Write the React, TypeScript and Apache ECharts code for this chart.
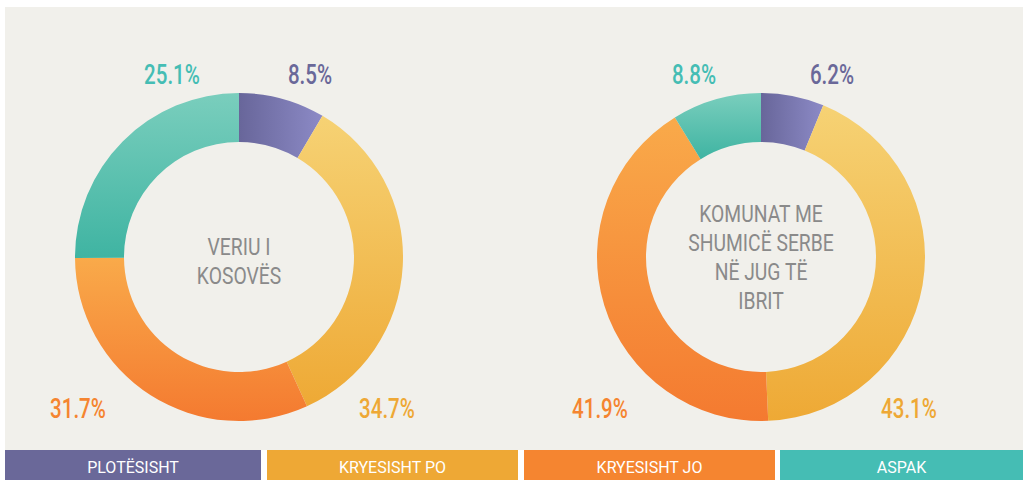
import React, { useEffect, useRef } from "react";
import * as echarts from "echarts";

const categories = ["PLOTËSISHT", "KRYESISHT PO", "KRYESISHT JO", "ASPAK"];
const northValues = [8.5, 34.7, 31.7, 25.1];
const southValues = [6.2, 43.1, 41.9, 8.8];
const northTitle = "VERIU I\nKOSOVËS";
const southTitle = "KOMUNAT ME\nSHUMICË SERBE\nNË JUG TË\nIBRIT";

const solidColors = ["#6a6899", "#eea835", "#f58530", "#45bdb4"];
const gradStops: [string, string, boolean][] = [
  ["#68669a", "#8c8ac6", true],
  ["#f6d274", "#eea935", false],
  ["#f9aa4a", "#f47a30", false],
  ["#7acebd", "#3fb4a2", false],
];

const FONT = "Roboto, 'DejaVu Sans', sans-serif";

const labelOffX = [71, 148, -161, -67];
const labelY = [75, 409, 409, 75];
const legendX = [5, 267, 524, 780];
const legendW = [256, 251, 251, 250];

function makeSeries(values: number[], cx: number) {
  return {
    type: "pie",
    center: [cx, 257],
    radius: [115, 164],
    startAngle: 90,
    clockwise: true,
    silent: true,
    label: { show: false },
    labelLine: { show: false },
    data: values.map((v, i) => ({
      value: v,
      name: categories[i],
      itemStyle: {
        color: new echarts.graphic.LinearGradient(
          0,
          0,
          gradStops[i][2] ? 1 : 0,
          gradStops[i][2] ? 0 : 1,
          [
            { offset: 0, color: gradStops[i][0] },
            { offset: 1, color: gradStops[i][1] },
          ]
        ),
      },
    })),
  };
}

function valueLabels(values: number[], cx: number) {
  return values.map((v, i) => ({
    type: "text",
    x: cx + labelOffX[i],
    y: labelY[i],
    scaleX: 0.76,
    style: {
      text: `${v}%`,
      fontFamily: FONT,
      fontSize: 27,
      fontWeight: 500,
      fill: solidColors[i],
      align: "center",
      verticalAlign: "middle",
    },
  }));
}

function centerText(text: string, cx: number, cy: number) {
  return {
    type: "text",
    x: cx,
    y: cy,
    scaleX: 0.84,
    style: {
      text,
      fontFamily: FONT,
      fontSize: 23,
      lineHeight: 29,
      fill: "#8a8a8a",
      align: "center",
      verticalAlign: "middle",
    },
  };
}

export default function App() {
  const ref = useRef<HTMLDivElement>(null);
  useEffect(() => {
    if (!ref.current) return;
    const chart = echarts.init(ref.current, null, { renderer: "svg" });
    const graphics: any[] = [
      {
        type: "rect",
        z: -10,
        shape: { x: 5, y: 7, width: 1018, height: 443 },
        style: { fill: "#f1f0eb" },
        silent: true,
      },
      centerText(northTitle, 239, 261),
      centerText(southTitle, 761, 257),
      ...valueLabels(northValues, 239),
      ...valueLabels(southValues, 761),
    ];
    categories.forEach((c, i) => {
      graphics.push({
        type: "rect",
        shape: { x: legendX[i], y: 450, width: legendW[i], height: 30 },
        style: { fill: solidColors[i] },
      });
      graphics.push({
        type: "text",
        x: legendX[i] + (i === 3 ? 243 : legendW[i]) / 2,
        y: 467,
        scaleX: 1.0,
        style: {
          text: c,
          fontFamily: FONT,
          fontSize: 16,
          fill: "#ffffff",
          align: "center",
          verticalAlign: "middle",
        },
      });
    });
    chart.setOption({
      animation: false,
      backgroundColor: "#ffffff",
      graphic: { elements: graphics },
      series: [makeSeries(northValues, 239), makeSeries(southValues, 761)],
    });
    return () => chart.dispose();
  }, []);
  return (
    <div
      ref={ref}
      style={{ position: "absolute", left: 0, top: 0, width: 1023, height: 480 }}
    />
  );
}
